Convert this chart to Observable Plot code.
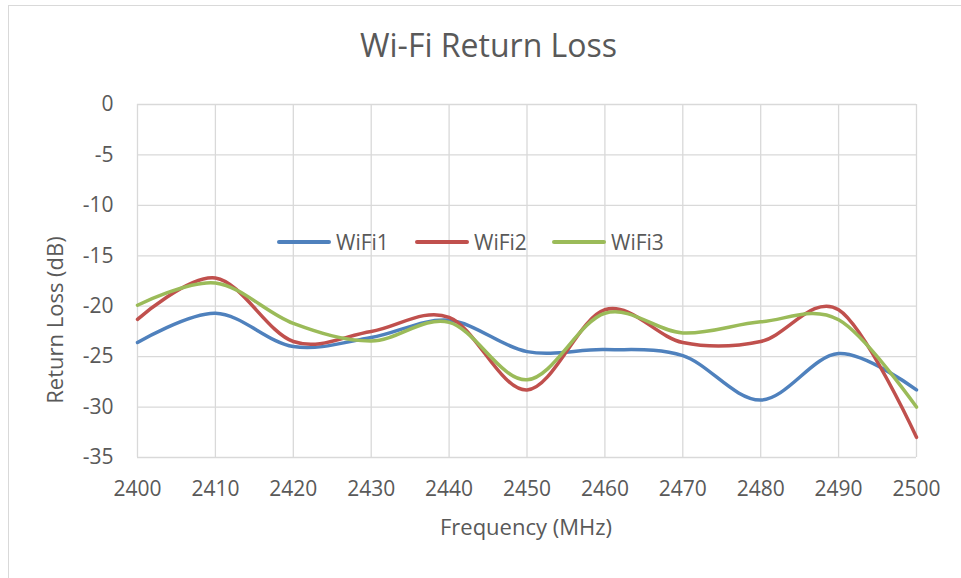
<!DOCTYPE html>
<html>
<head>
<meta charset="utf-8">
<script src="https://cdn.jsdelivr.net/npm/d3@7"></script>
<script src="https://cdn.jsdelivr.net/npm/@observablehq/plot@0.6"></script>
<style>
  body { margin: 0; background: #fff; font-family: "Open Sans", sans-serif; }
  #wrap { position: relative; width: 961px; height: 578px; overflow: hidden; background: #fff; }
  #border { position: absolute; left: 8px; top: 5px; width: 980px; height: 600px; border: 1px solid #d9d9d9; box-sizing: border-box; }
  #title { position: absolute; left: 8px; width: 961px; top: 25px; height: 40px; line-height: 40px; text-align: center; font-size: 32px; color: #595959; white-space: nowrap; }
  #chart { position: absolute; left: 0; top: 85px; }
  #ylab { position: absolute; left: 54px; top: 320px; transform: translate(-50%, -50%) rotate(-90deg); font-size: 22px; line-height: 22px; color: #595959; white-space: nowrap; }
  #xlab { position: absolute; left: 526px; top: 511px; transform: translateX(-50%); font-size: 22px; line-height: 30px; color: #595959; white-space: nowrap; }
  .leg { position: absolute; top: 227px; height: 30px; line-height: 30px; display: flex; align-items: center; font-size: 21px; color: #595959; white-space: nowrap; }
  .leg span.sw { display: inline-block; width: 54px; height: 3.5px; border-radius: 2px; margin-right: 5px; }
</style>
</head>
<body>
<div id="wrap">
  <div id="border"></div>
  <div id="title"></div>
  <div id="chart"></div>
  <div id="ylab"></div>
  <div id="xlab"></div>
</div>
<script>
// ---- data ----
const title = "Wi-Fi Return Loss";
const xLabel = "Frequency (MHz)";
const yLabel = "Return Loss (dB)";
const series = ["WiFi1", "WiFi2", "WiFi3"];
const colors = ["#4f81bd", "#c0504d", "#9bbb59"];
const freq  = [2400, 2410, 2420, 2430, 2440, 2450, 2460, 2470, 2480, 2490, 2500];
const wifi1 = [-23.6, -20.7, -24.0, -23.1, -21.4, -24.5, -24.3, -24.9, -29.3, -24.7, -28.3];
const wifi2 = [-21.3, -17.2, -23.5, -22.5, -21.1, -28.3, -20.35, -23.6, -23.5, -20.35, -33.0];
const wifi3 = [-19.9, -17.7, -21.7, -23.45, -21.6, -27.3, -20.7, -22.65, -21.55, -21.35, -30.0];
const xTicks = [2400, 2410, 2420, 2430, 2440, 2450, 2460, 2470, 2480, 2490, 2500];
const yTicks = [0, -5, -10, -15, -20, -25, -30, -35];
const legendLeft = [277, 415, 552];

const values = [wifi1, wifi2, wifi3];
const data = series.flatMap((s, i) => freq.map((f, j) => ({series: s, freq: f, value: values[i][j]})));

document.getElementById("title").textContent = title;
document.getElementById("xlab").textContent = xLabel;
document.getElementById("ylab").textContent = yLabel;

const chart = Plot.plot({
  width: 961,
  height: 493,
  marginLeft: 137,
  marginRight: 45,
  marginTop: 19,
  marginBottom: 121,
  style: {fontFamily: "Open Sans", fontSize: "21px", color: "#595959", background: "none", overflow: "visible"},
  x: {domain: [2400, 2500], ticks: xTicks, label: null},
  y: {domain: [-35, 0], ticks: yTicks, label: null},
  color: {domain: series, range: colors},
  marks: [
    Plot.ruleX(xTicks, {stroke: "#d9d9d9", strokeWidth: 1.3}),
    Plot.ruleY(yTicks, {stroke: "#d9d9d9", strokeWidth: 1.3}),
    Plot.axisX({ticks: xTicks, tickSize: 0, tickPadding: 24, fontSize: 21, fill: "#595959", label: null, tickFormat: d => String(d)}),
    Plot.axisY({ticks: yTicks, tickSize: 0, tickPadding: 24, fontSize: 21, fill: "#595959", label: null, tickFormat: d => String(d)}),
    Plot.line(data, {x: "freq", y: "value", stroke: "series", strokeWidth: 3.5, curve: "cardinal", tension: 0})
  ]
});
document.getElementById("chart").appendChild(chart);

const wrap = document.getElementById("wrap");
series.forEach((s, i) => {
  const item = document.createElement("div");
  item.className = "leg";
  item.style.left = legendLeft[i] + "px";
  const sw = document.createElement("span");
  sw.className = "sw";
  sw.style.background = colors[i];
  const t = document.createElement("span");
  t.textContent = s;
  item.appendChild(sw);
  item.appendChild(t);
  wrap.appendChild(item);
});
</script>
</body>
</html>
